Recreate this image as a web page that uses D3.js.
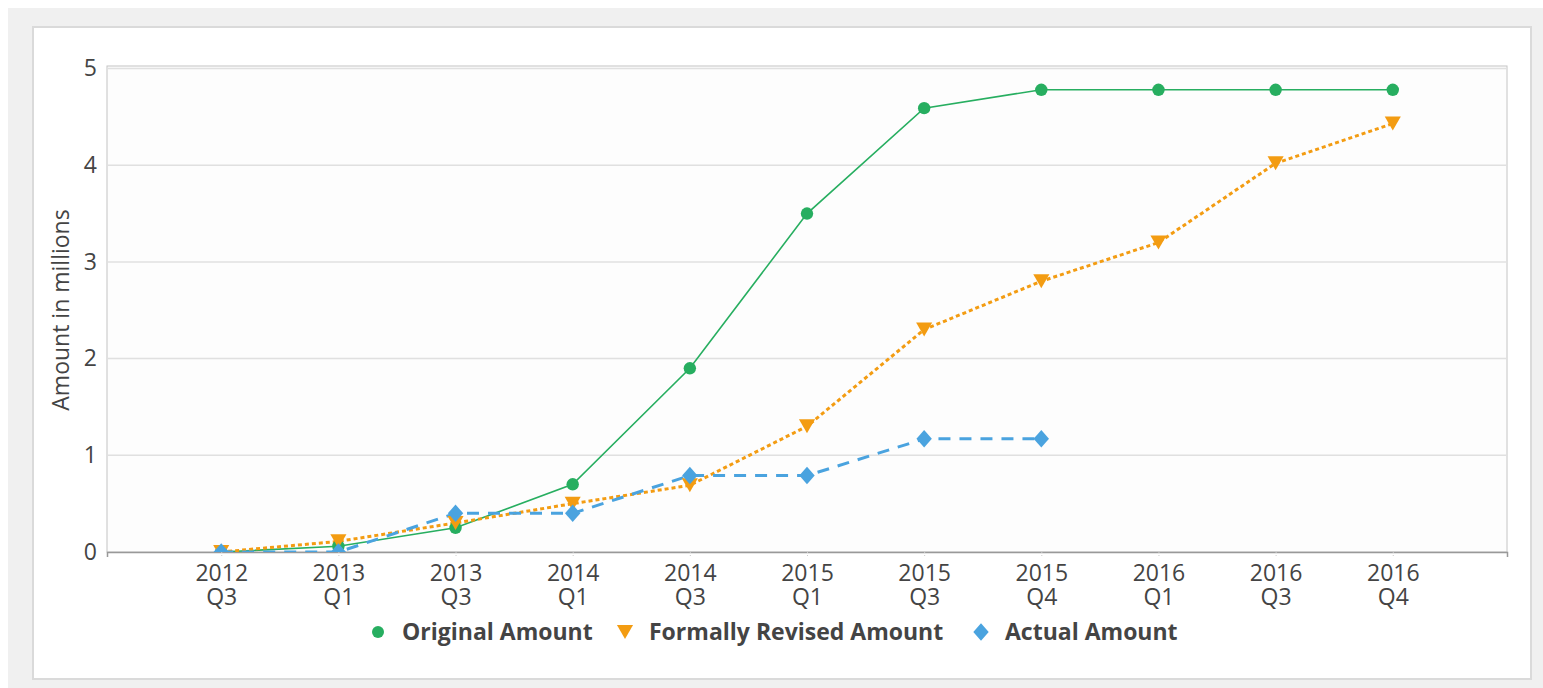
<!DOCTYPE html>
<html>
<head>
<meta charset="utf-8">
<script src="https://cdn.jsdelivr.net/npm/d3@7"></script>
<style>
	html, body { margin: 0; padding: 0; background: #fff; }
	#wrap { position: absolute; left: 8px; top: 8px; width: 1535px; height: 680px; background: #f0f0f0; }
	#card { position: absolute; left: 24px; top: 18px; width: 1496px; height: 650px; background: #fff; border: 2px solid #dadada; }
	svg { position: absolute; left: 0; top: 0; }
	text { font-family: "Open Sans", sans-serif; fill: #444; }
</style>
</head>
<body>
<div id="wrap"><div id="card"></div></div>
<svg id="chart" width="1543" height="688"></svg>
<script>
var quarters = ["2012 Q3", "2013 Q1", "2013 Q3", "2014 Q1", "2014 Q3", "2015 Q1", "2015 Q3", "2015 Q4", "2016 Q1", "2016 Q3", "2016 Q4"];
var originalAmount = [0, 0.06, 0.25, 0.7, 1.9, 3.5, 4.59, 4.78, 4.78, 4.78, 4.78];
var revisedAmount = [0, 0.11, 0.3, 0.5, 0.69, 1.3, 2.3, 2.8, 3.2, 4.02, 4.43];
var actualAmount = [0, 0, 0.4, 0.4, 0.79, 0.79, 1.17, 1.17, null, null, null];
var yTicks = [0, 1, 2, 3, 4, 5];

var margin = {top: 66, left: 107, right: 36, bottom: 136},
	width = 1400,
	height = 486;

var svg = d3.select("#chart");

var x = d3.scalePoint().domain(quarters).range([0, width]).padding(0.975);
var y = d3.scaleLinear().domain([0, 5]).range([height, 2.5]);

var g = svg.append("g")
	.attr("transform", "translate(" + margin.left + "," + margin.top + ")");

g.append("rect")
	.attr("width", width)
	.attr("height", height)
	.attr("fill", "#fdfdfd")
	.attr("stroke", "#c4c4c4")
	.attr("stroke-width", 1);

g.append("clipPath").attr("id", "plotclip")
	.append("rect").attr("width", width).attr("height", height);

// grid lines
g.append("g")
	.selectAll("line")
	.data(yTicks.filter(function(d) { return d > 0; }))
	.enter().append("line")
	.attr("x1", 0)
	.attr("x2", width)
	.attr("y1", function(d) { return y(d); })
	.attr("y2", function(d) { return y(d); })
	.attr("stroke", "#e0e0e0")
	.attr("stroke-width", 1.5);

// y axis
var yAxis = g.append("g")
	.call(d3.axisLeft(y).tickValues(yTicks).tickFormat(d3.format("d")).tickSize(0).tickPadding(10));
yAxis.select(".domain").remove();
yAxis.selectAll("text")
	.style("font-size", "23px")
	.attr("fill", "#444");

// x axis
var xAxis = g.append("g")
	.attr("transform", "translate(0," + height + ")")
	.call(d3.axisBottom(x).tickSize(5).tickPadding(6));
xAxis.select(".domain").attr("stroke", "#999").attr("stroke-width", 1.5);
xAxis.selectAll(".tick line").attr("stroke", "#ccc").attr("stroke-dasharray", "1,2");
xAxis.selectAll(".tick text").each(function(d) {
	var parts = d.split(" ");
	var t = d3.select(this).text(null).style("font-size", "23px").attr("fill", "#444");
	t.append("tspan").attr("x", 0).attr("dy", "0.8em").text(parts[0]);
	t.append("tspan").attr("x", 0).attr("dy", "1.02em").text(parts[1]);
});

// y axis title
g.append("text")
	.attr("transform", "rotate(-90)")
	.attr("x", -244)
	.attr("y", -38)
	.attr("text-anchor", "middle")
	.style("font-size", "23px")
	.text("Amount in millions");

var series = [
	{name: "Original Amount", values: originalAmount, color: "#27ae60", width: 1.6, dash: null, symbol: "circle"},
	{name: "Formally Revised Amount", values: revisedAmount, color: "#f39c12", width: 3, dash: "4,3", symbol: "triangle"},
	{name: "Actual Amount", values: actualAmount, color: "#4aa3df", width: 3, dash: "12,9", symbol: "diamond"}
];

function marker(sel, type, cx, cy, size) {
	if (type === "circle") {
		sel.append("circle").attr("cx", cx).attr("cy", cy).attr("r", size);
	} else if (type === "triangle") {
		sel.append("path").attr("d", "M" + (cx - size * 1.15) + "," + (cy - size) + "L" + (cx + size * 1.15) + "," + (cy - size) + "L" + cx + "," + (cy + size) + "Z");
	} else {
		sel.append("path").attr("d", "M" + cx + "," + (cy - size * 1.25) + "L" + (cx + size * 1.1) + "," + cy + "L" + cx + "," + (cy + size * 1.25) + "L" + (cx - size * 1.1) + "," + cy + "Z");
	}
}

var plot = g.append("g").attr("clip-path", "url(#plotclip)");

series.forEach(function(s) {
	var pts = quarters.map(function(q, i) { return {q: q, v: s.values[i]}; });
	var line = d3.line()
		.defined(function(d) { return d.v !== null; })
		.x(function(d) { return x(d.q); })
		.y(function(d) { return y(d.v); });
	plot.append("path")
		.datum(pts)
		.attr("fill", "none")
		.attr("stroke", s.color)
		.attr("stroke-width", s.width)
		.attr("stroke-dasharray", s.dash)
		.attr("d", line);
});

series.forEach(function(s) {
	var mg = plot.append("g").attr("fill", s.color);
	quarters.forEach(function(q, i) {
		if (s.values[i] === null) return;
		marker(mg, s.symbol, x(q), y(s.values[i]), s.symbol === "circle" ? 6.2 : 7);
	});
});

// legend
var legendX = [378, 625, 981];
var legend = svg.append("g").attr("transform", "translate(0,632)");
series.forEach(function(s, i) {
	var lg = legend.append("g").attr("fill", s.color);
	marker(lg, s.symbol, legendX[i], 0, s.symbol === "circle" ? 6 : 7);
	legend.append("text")
		.attr("x", legendX[i] + 24)
		.attr("y", 0)
		.attr("dy", "0.35em")
		.style("font-size", "23px")
		.style("font-weight", "bold")
		.text(s.name);
});
</script>
</body>
</html>
